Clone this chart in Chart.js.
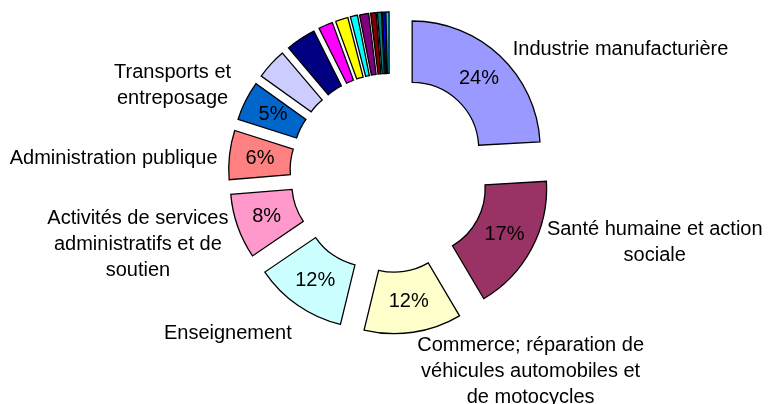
<!DOCTYPE html>
<html>
<head>
<meta charset="utf-8">
<script src="https://cdn.jsdelivr.net/npm/chart.js@4"></script>
<style>
  body { margin: 0; background: #fff; }
</style>
</head>
<body>
<canvas id="donut" width="769" height="404"></canvas>
<script>
// sectors, in the order of the ring (clockwise from 12 o'clock)
const categories = [
  ["Industrie manufacturière"],
  ["Santé humaine et action", "sociale"],
  ["Commerce; réparation de", "véhicules automobiles et", "de motocycles"],
  ["Enseignement"],
  ["Activités de services", "administratifs et de", "soutien"],
  ["Administration publique"],
  ["Transports et", "entreposage"],
  "", "", "", "", "", "", "", "", "", "",
];
// share of employment, in %
const shares = [24.1, 17.4, 12.3, 11.7, 8.2, 6.2, 5.0, 3.9, 3.8, 1.8, 1.6, 0.9, 1.15, 0.7, 0.5, 0.35, 0.4];
const colors = [
  "#9999FF", "#993366", "#FFFFCC", "#CCFFFF", "#FF99CC", "#FF8080", "#0066CC",
  "#CCCCFF", "#000080", "#FF00FF", "#FFFF00", "#00FFFF", "#800080", "#800000",
  "#008080", "#0000FF", "#00CCFF",
];

const EXPLODE = 33;
const LABEL_GAP = 14;
const FONT = "20px 'Liberation Sans', Arial, sans-serif";
const LINE_H = 26;
// small hand nudges of the outside labels (like Excel's best-fit placement)
const labelNudge = [[3, 4], [3, -13], [2, -14], [2, 4], [4, 13], [2, 5], [-2, -9]];

const explodePlugin = {
  id: "explode",
  beforeDatasetDraw(chart, args) {
    const ctx = chart.ctx;
    args.meta.data.forEach((arc) => {
      const mid = (arc.startAngle + arc.endAngle) / 2;
      ctx.save();
      ctx.translate(Math.cos(mid) * EXPLODE, Math.sin(mid) * EXPLODE);
      arc.draw(ctx);
      ctx.restore();
    });
    return false;
  },
  afterDraw(chart) {
    const ctx = chart.ctx;
    const meta = chart.getDatasetMeta(0);
    const total = shares.reduce((a, b) => a + b, 0);
    ctx.save();
    ctx.font = FONT;
    ctx.fillStyle = "#000";
    ctx.textBaseline = "middle";
    meta.data.forEach((arc, i) => {
      const lines = categories[i];
      if (!lines || !lines.length) return;
      const { x, y, startAngle, endAngle, outerRadius } = arc.getProps(
        ["x", "y", "startAngle", "endAngle", "outerRadius"], true);
      const mid = (startAngle + endAngle) / 2;
      const ex = Math.cos(mid) * EXPLODE;
      const ey = Math.sin(mid) * EXPLODE;

      // percentage inside the sector
      const c = arc.getCenterPoint(true);
      ctx.textAlign = "center";
      ctx.fillText(Math.round((shares[i] / total) * 100) + "%", c.x + ex, c.y + ey);

      // category name outside
      const r = outerRadius + EXPLODE + LABEL_GAP;
      const [nx, ny] = labelNudge[i] || [0, 0];
      const ax = x + Math.cos(mid) * r + nx;
      const ay = y + Math.sin(mid) * r + ny;
      const w = Math.max(...lines.map((l) => ctx.measureText(l).width));
      const left = Math.cos(mid) >= 0 ? ax : ax - w;
      const top = Math.sin(mid) > 0.7 ? ay : ay - (lines.length * LINE_H) / 2;
      lines.forEach((line, k) => {
        ctx.fillText(line, left + w / 2, top + LINE_H * (k + 0.5));
      });
    });
    ctx.restore();
  },
};

new Chart("donut", {
  type: "doughnut",
  data: {
    labels: categories,
    datasets: [
      {
        data: shares,
        backgroundColor: colors,
        borderColor: "#000",
        borderWidth: 1.3,
        borderJoinStyle: "miter",
      },
    ],
  },
  options: {
    responsive: false,
    animation: false,
    radius: 128,
    cutout: "52%",
    layout: {
      padding: { top: 20, bottom: 78, left: 110, right: 100 },
    },
    plugins: {
      legend: { display: false },
      tooltip: { enabled: false },
    },
  },
  plugins: [explodePlugin],
});
</script>
</body>
</html>
